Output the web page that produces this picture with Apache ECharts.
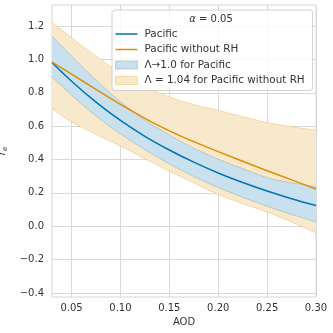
<!DOCTYPE html>
<html><head><meta charset="utf-8">
<script src="https://cdn.jsdelivr.net/npm/echarts@6/dist/echarts.min.js"></script>
<style>html,body{margin:0;padding:0;background:#fff}#c{width:333px;height:333px}</style>
</head><body><div id="c"></div>
<script>
const aod = [0.03, 0.05, 0.075, 0.10, 0.125, 0.15, 0.175, 0.20, 0.225, 0.25, 0.275, 0.30];
const pacific = [0.981, 0.869, 0.744, 0.634, 0.539, 0.457, 0.384, 0.319, 0.262, 0.211, 0.165, 0.124];
const pacificNoRH = [0.984, 0.912, 0.82, 0.73, 0.647, 0.572, 0.507, 0.447, 0.39, 0.333, 0.278, 0.223];
const bandPacificLow = [0.894, 0.786, 0.661, 0.554, 0.459, 0.374, 0.299, 0.232, 0.174, 0.12, 0.071, 0.026];
const bandPacificHigh = [1.14, 1.02, 0.876, 0.747, 0.637, 0.547, 0.468, 0.402, 0.345, 0.292, 0.26, 0.238];
const bandNoRHLow = [0.704, 0.625, 0.55, 0.48, 0.405, 0.33, 0.26, 0.19, 0.135, 0.085, 0.025, -0.04];
const bandNoRHHigh = [1.224, 1.13, 1.02, 0.92, 0.84, 0.775, 0.73, 0.695, 0.657, 0.622, 0.597, 0.576];
const xTicks = [0.05, 0.10, 0.15, 0.20, 0.25, 0.30];
const yTicks = [-0.4, -0.2, 0.0, 0.2, 0.4, 0.6, 0.8, 1.0, 1.2];
const legendNames = ['Pacific', 'Pacific without RH', 'Λ→1.0 for Pacific', 'Λ = 1.04 for Pacific without RH'];
const legendTitle = '{a|α} = 0.05';
const xName = 'AOD';
const yName = '{r|r}{e|e}';

const BLUE = '#0173b2', ORANGE = '#de8f05';
const BLUE_FILL = '#c9e1ef', BLUE_EDGE = 'rgba(140,165,150,0.45)';
const OR_FILL = '#f8e8cc', OR_EDGE = 'rgba(222,143,5,0.25)';
const FONT = 'DejaVu Sans';
const SM = 0.33;
const LINE_ICON = 'path://M0,0L22,0L22,1.5L0,1.5Z';

// Catmull-Rom sampling of pixel coordinates (rendering only)
function sampleCurve(pts) {
  const out = [pts[0]];
  const n = pts.length;
  for (let i = 0; i < n - 1; i++) {
    const p0 = pts[Math.max(i - 1, 0)], p1 = pts[i], p2 = pts[i + 1], p3 = pts[Math.min(i + 2, n - 1)];
    const c1 = [p1[0] + (p2[0] - p0[0]) / 6, p1[1] + (p2[1] - p0[1]) / 6];
    const c2 = [p2[0] - (p3[0] - p1[0]) / 6, p2[1] - (p3[1] - p1[1]) / 6];
    for (let k = 1; k <= 10; k++) {
      const t = k / 10, u = 1 - t;
      out.push([
        u*u*u*p1[0] + 3*u*u*t*c1[0] + 3*u*t*t*c2[0] + t*t*t*p2[0],
        u*u*u*p1[1] + 3*u*u*t*c1[1] + 3*u*t*t*c2[1] + t*t*t*p2[1]
      ]);
    }
  }
  return out;
}

function bandSeries(name, lo, hi, fill, edge, z) {
  return {
    name: name, type: 'custom', z: z, silent: true, clip: true,
    data: [[aod[0], lo[0]]],
    renderItem: function (params, api) {
      const top = sampleCurve(aod.map((x, i) => api.coord([x, hi[i]])));
      const bot = sampleCurve(aod.map((x, i) => api.coord([x, lo[i]])));
      return {
        type: 'group',
        children: [
          {type: 'polygon', shape: {points: top.concat(bot.slice().reverse())}, style: {fill: fill, stroke: null}},
          {type: 'polyline', shape: {points: top}, style: {fill: null, stroke: edge, lineWidth: 1}},
          {type: 'polyline', shape: {points: bot}, style: {fill: null, stroke: edge, lineWidth: 1}}
        ]
      };
    }
  };
}

function pairs(ys) { return aod.map((x, i) => [x, ys[i]]); }

const chart = echarts.init(document.getElementById('c'), null, {renderer: 'canvas'});
chart.setOption({
  animation: false,
  backgroundColor: '#fff',
  textStyle: {fontFamily: FONT},
  grid: {left: 52, right: 17, top: 5, bottom: 36, show: true, borderColor: '#d6d6d6', borderWidth: 1, backgroundColor: 'transparent', containLabel: false, outerBoundsMode: 'none'},
  xAxis: {
    type: 'value', min: 0.03, max: 0.30,
    axisLine: {show: false}, axisTick: {show: false, customValues: xTicks},
    axisLabel: {customValues: xTicks, formatter: v => v.toFixed(2), color: '#333', fontSize: 10, fontFamily: FONT, margin: 6},
    splitLine: {show: true, lineStyle: {color: '#d9d9d9', width: 1}},
    name: xName, nameLocation: 'middle', nameGap: 19, nameTextStyle: {color: '#333', fontSize: 10, fontFamily: FONT}
  },
  yAxis: {
    type: 'value', min: -0.424, max: 1.326,
    axisLine: {show: false}, axisTick: {show: false, customValues: yTicks},
    axisLabel: {customValues: yTicks, formatter: v => (v < -1e-9 ? '\u2212' + Math.abs(v).toFixed(1) : Math.abs(v).toFixed(1)), color: '#333', fontSize: 10, fontFamily: FONT, margin: 8},
    splitLine: {show: true, lineStyle: {color: '#d9d9d9', width: 1}},
    name: yName, nameLocation: 'middle', nameGap: 29, nameRotate: 90,
    nameTextStyle: {color: '#333', fontFamily: FONT, rich: {
      r: {fontSize: 10, fontStyle: 'italic', fontFamily: FONT, color: '#333'},
      e: {fontSize: 7, fontStyle: 'italic', fontFamily: FONT, color: '#333', padding: [5, 0, 0, 0]}
    }}
  },
  legend: {
    orient: 'vertical', left: 112, top: 10,
    padding: [18, 8, 4, 3], itemGap: 3.5, itemWidth: 22, itemHeight: 8,
    backgroundColor: 'rgba(255,255,255,0.8)', borderColor: '#d0d0d0', borderWidth: 1, borderRadius: 3,
    selectedMode: false,
    textStyle: {fontSize: 10.4, fontFamily: FONT, color: '#333', lineHeight: 12, padding: [0, 0, 0, 2]},
    data: [
      {name: legendNames[0], icon: LINE_ICON, itemStyle: {color: BLUE}},
      {name: legendNames[1], icon: LINE_ICON, itemStyle: {color: ORANGE}},
      {name: legendNames[2], icon: 'rect', itemStyle: {color: BLUE_FILL, borderColor: BLUE_EDGE, borderWidth: 1}},
      {name: legendNames[3], icon: 'rect', itemStyle: {color: OR_FILL, borderColor: OR_EDGE, borderWidth: 1}}
    ]
  },
  graphic: [{
    type: 'text', x: 211, y: 19, z: 100,
    style: {text: legendTitle, font: '10px "DejaVu Sans"', fill: '#333', textAlign: 'center', textVerticalAlign: 'middle', align: 'center', verticalAlign: 'middle',
      rich: {a: {fontStyle: 'italic', fontSize: 10, fontFamily: FONT, fill: '#333', color: '#333'}}}
  }],
  series: [
    bandSeries(legendNames[3], bandNoRHLow, bandNoRHHigh, OR_FILL, OR_EDGE, 1),
    bandSeries(legendNames[2], bandPacificLow, bandPacificHigh, BLUE_FILL, BLUE_EDGE, 2),
    {name: legendNames[0], type: 'line', data: pairs(pacific), symbol: 'none', smooth: SM,
      lineStyle: {color: BLUE, width: 1.5}, itemStyle: {color: BLUE}, z: 5},
    {name: legendNames[1], type: 'line', data: pairs(pacificNoRH), symbol: 'none', smooth: SM,
      lineStyle: {color: ORANGE, width: 1.5}, itemStyle: {color: ORANGE}, z: 6}
  ]
});
</script></body></html>
